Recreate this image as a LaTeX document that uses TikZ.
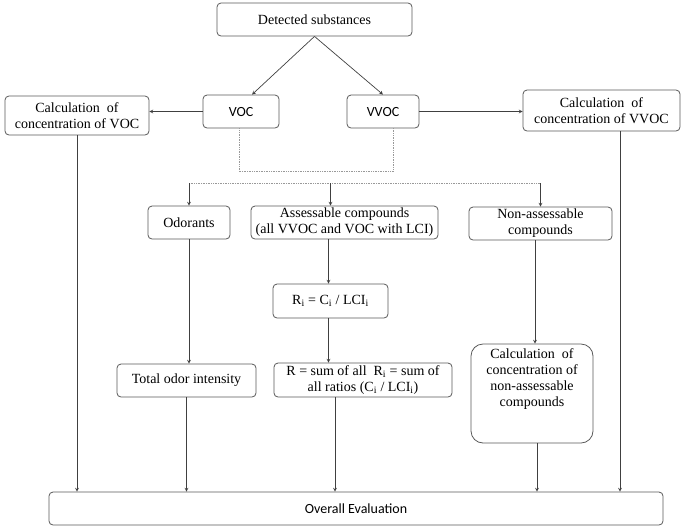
\documentclass[tikz,border=0pt]{standalone}
\usepackage{fontspec}
\setmainfont{Liberation Serif}
\newfontfamily\calfont{Carlito}
\begin{document}
\begin{tikzpicture}[x=1pt,y=-1pt,
		font=\fontsize{14}{16}\selectfont,
		box/.style={draw=black!65,line width=0.8pt,rounded corners=4pt,align=center,inner sep=1pt},
		link/.style={-stealth,draw=black!75,line width=0.7pt},
		dotline/.style={draw=black!40,line width=0.7pt,densely dotted}]
			\useasboundingbox (0,0) rectangle (685,531);
			\node[box,minimum width=195,minimum height=33](det) at (314.5,19.5){Detected substances};
			\node[box,minimum width=76,minimum height=33,font=\calfont\fontsize{14}{16}\selectfont](voc) at (241,111.5){VOC};
			\node[box,minimum width=72,minimum height=33,font=\calfont\fontsize{14}{16}\selectfont](vvoc) at (383,111.5){VVOC};
			\node[box,minimum width=144,minimum height=39](calcvoc) at (77,115.5){Calculation\ \ of\\concentration of VOC};
			\node[box,minimum width=157,minimum height=41](calcvvoc) at (601.5,110.5){Calculation\ \ of\\concentration of VVOC};
			\node[box,minimum width=82,minimum height=33](odor) at (189,222.5){Odorants};
			\node[box,minimum width=187,minimum height=33](assess) at (344.5,222.5){Assessable compounds\\(all VVOC and VOC with LCI)};
			\node[box,minimum width=143,minimum height=33](nonassess) at (540.5,223.5){Non-assessable\\compounds};
			\node[box,minimum width=115,minimum height=34](ri) at (330.5,301){R\textsubscript{i} = C\textsubscript{i} / LCI\textsubscript{i}};
			\node[box,minimum width=178,minimum height=34](rsum) at (363,380){R = sum of all\ \ R\textsubscript{i} = sum of\\all ratios (C\textsubscript{i} / LCI\textsubscript{i})};
			\node[box,minimum width=139,minimum height=33](total) at (186.5,380.5){Total odor intensity};
			\node[box,rounded corners=12pt,minimum width=122,minimum height=99,text depth=32pt](calcnon) at (532,393.5){Calculation\ \ of\\concentration of\\non-assessable\\compounds};
			\node[box,minimum width=614,minimum height=33,font=\calfont\fontsize{14}{16}\selectfont](overall) at (356,508.5){Overall Evaluation};
			\coordinate (split) at (190,183);
			\coordinate (vvocdown) at (620,131);
			\coordinate (rdown) at (335,397);
			\draw[link](det.south)--([xshift=11pt]voc.north);
			\draw[link](det.south)--(vvoc.north);
			\draw[link](voc.west)--(voc.west-|calcvoc.east);
			\draw[link](vvoc.east)--(vvoc.east-|calcvvoc.west);
			\draw[dotline]([xshift=-2pt]voc.south)--++(0,43)-|([xshift=10pt]vvoc.south);
			\draw[dotline](odor.north|-split)--(nonassess.north|-split);
			\draw[link](odor.north|-split)--(odor.north);
			\draw[link](ri.north|-split)--(ri.north|-assess.north);
			\draw[link](nonassess.north|-split)--(nonassess.north);
			\draw[link](odor.south)--(odor.south|-total.north);
			\draw[link]([xshift=-2pt]ri.north|-assess.south)--([xshift=-2pt]ri.north);
			\draw[link]([xshift=-2pt]ri.south)--([xshift=-2pt]ri.south|-rsum.north);
			\draw[link]([xshift=3pt]calcnon.north|-nonassess.south)--([xshift=3pt]calcnon.north);
			\draw[link](calcvoc.south)--(calcvoc.south|-overall.north);
			\draw[link](vvocdown)--(vvocdown|-overall.north);
			\draw[link](total.south)--(total.south|-overall.north);
			\draw[link](rdown)--(rdown|-overall.north);
			\draw[link]([xshift=5pt]calcnon.south)--([xshift=5pt]calcnon.south|-overall.north);
		\end{tikzpicture}
\end{document}
